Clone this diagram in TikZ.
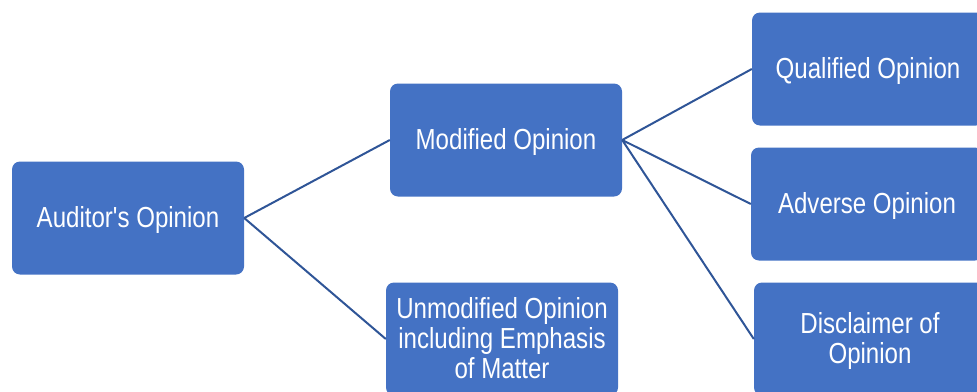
\documentclass[tikz,border=0pt]{standalone}
\usepackage{fontspec}
\setmainfont{Liberation Sans}
\usepackage{graphicx}
\definecolor{boxblue}{RGB}{68,114,196}
\definecolor{lineblue}{RGB}{47,85,151}
\newcommand{\optext}[1]{\raisebox{-3pt}[\height][\depth]{\scalebox{0.83}[1]{\begin{tabular}{@{}c@{}}#1\end{tabular}}}}

\begin{document}
\begin{tikzpicture}[x=1pt, y=-1pt,
	opbox/.style={fill=boxblue, draw=none, rounded corners=8pt, minimum width=232pt, minimum height=113pt, inner sep=0pt, text=white, font=\fontsize{29}{30}\selectfont},
	opline/.style={draw=lineblue, line width=2pt}]
	\useasboundingbox (0,0) rectangle (977,391);
	\clip (0,0) rectangle (977,391);
	
	\node[opbox] (auditor) at (128,218) {\optext{Auditor\textquotesingle s Opinion}};
	\node[opbox] (modified) at (506,140) {\optext{Modified Opinion}};
	\node[opbox] (unmodified) at (502,339) {\optext{Unmodified Opinion\\including Emphasis\\of Matter}};
	\node[opbox] (qualified) at (868,69) {\optext{Qualified Opinion}};
	\node[opbox] (adverse) at (867,204) {\optext{Adverse Opinion}};
	\node[opbox] (disclaimer) at (870,339) {\optext{Disclaimer of\\Opinion}};
	
	\draw[opline] (auditor.east) -- (modified.west);
	\draw[opline] (auditor.east) -- (unmodified.west);
	\draw[opline] (modified.east) -- (qualified.west);
	\draw[opline] (modified.east) -- (adverse.west);
	\draw[opline] (modified.east) -- (disclaimer.west);
\end{tikzpicture}
\end{document}
